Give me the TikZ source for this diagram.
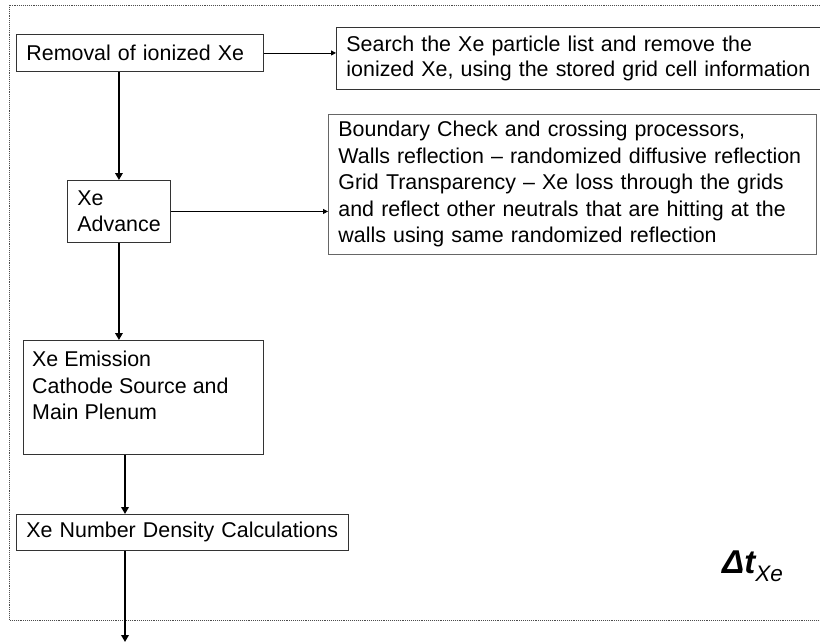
\documentclass[tikz,border=0pt]{standalone}
\usepackage{fontspec}
\setmainfont{Liberation Sans}
\usetikzlibrary{arrows.meta}
\newcommand{\boxfont}{\fontsize{21.4}{26.5}\selectfont}
\begin{document}
\begin{tikzpicture}[x=1pt,y=-1pt,
  box/.style={draw=black!80, line width=0.9pt, rectangle, anchor=north west,
    inner xsep=10pt, inner ysep=0pt, align=left, font=\boxfont},
  flow/.style={line width=2.5pt, -{Triangle[width=7.5pt,length=7pt]}},
  link/.style={line width=0.8pt, -{Triangle[width=5pt,length=5pt]}},
  frame/.style={densely dotted, line width=0.9pt, black!70}]

% page area
\path[use as bounding box, clip] (0,0) rectangle (820,643);

% dotted loop frame for one Xe time step
\draw[frame] (9.5,5) rectangle (840,620);

% process boxes
\node[box, text width=227pt, minimum height=37pt] (rem) at (16,34) {\mbox{Removal of ionized Xe}};
\node[box, text width=480pt, minimum height=62pt, font=\fontsize{21.4}{24.5}\selectfont] (srch) at (336,27)
  {Search the Xe particle list and remove the\\ionized Xe, using the stored grid cell information};
\node[box, text width=83pt, minimum height=62pt] (adv) at (67,180) {Xe\\Advance};
\node[box, draw=black!60, text width=468pt, minimum height=140pt] (bnd) at (328,114)
  {\mbox{Boundary Check and crossing processors,}\\
   \mbox{Walls reflection – randomized diffusive reflection}\\
   \mbox{Grid Transparency – Xe loss through the grids}\\
   \mbox{and reflect other neutrals that are hitting at the}\\
   \mbox{walls using same randomized reflection}};
\node[box, text width=220pt, minimum height=114pt] (emit) at (23,340) {};
\node[anchor=north west, inner sep=0pt, align=left, font=\boxfont] (emittxt) at (32,351)
  {Xe Emission\\Cathode Source and\\Main Plenum};
\node[box, text width=312pt, minimum height=36pt] (num) at (16,514) {\mbox{Xe Number Density Calculations}};

% time step label
\node[anchor=base west, inner sep=0pt] (dt) at (722,573)
  {{\fontsize{33}{35}\selectfont\bfseries\itshape Δt}{\fontsize{22.5}{24}\selectfont\itshape\raisebox{-8pt}{Xe}}};

% helper coordinates for the lower vertical lane
\coordinate (lane) at (125,0);
\coordinate (out) at (125,642);

% main flow
\draw[flow] (rem.south -| adv.north) -- (adv.north);
\draw[flow] (adv.south) -- (adv.south |- emit.north);
\draw[flow] (emit.south -| lane) -- (num.north -| lane);
\draw[flow] (num.south -| lane) -- (out);

% side explanations
\draw[link] (rem.east) -- (rem.east -| srch.west);
\draw[link] (adv.east) -- (adv.east -| bnd.west);
\end{tikzpicture}
\end{document}
